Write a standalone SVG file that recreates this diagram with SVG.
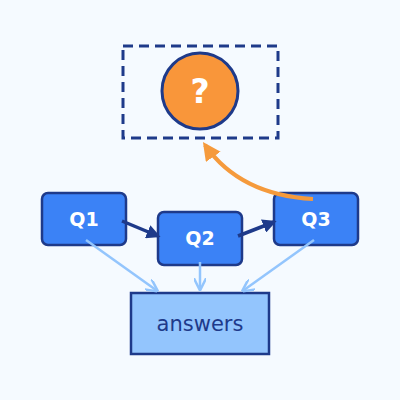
<svg xmlns="http://www.w3.org/2000/svg" width="400" height="400" viewBox="0 0 400 400">
<style>
.q{fill:#3b82f6;stroke:#1e3a8a;stroke-width:2.5}
.qt{font-family:"DejaVu Sans",sans-serif;font-weight:bold;font-size:19px;fill:#fff;text-anchor:middle}
.dark{stroke:#1e3a8a;stroke-width:3.5;fill:none}
.light{stroke:#93c5fd;stroke-width:2.5;fill:none}
</style>
<defs>
<marker id="ad" viewBox="0 0 10 10" refX="8" refY="5" markerWidth="4" markerHeight="4" orient="auto"><path d="M0,0L10,5L0,10z" fill="#1e3a8a"/></marker>
<marker id="al" viewBox="0 0 10 10" refX="8" refY="5" markerWidth="5" markerHeight="5" orient="auto"><path d="M0,0L10,5L0,10" fill="none" stroke="#93c5fd" stroke-width="2"/></marker>
<marker id="ao" viewBox="0 0 10 10" refX="8" refY="5" markerWidth="4.5" markerHeight="4.5" orient="auto"><path d="M0,0L10,5L0,10z" fill="#f59a3c"/></marker>
</defs>
<rect width="400" height="400" fill="#f5faff"/>
<g id="unknown">
<rect x="123" y="46" width="155" height="92" fill="none" stroke="#1e3a8a" stroke-width="3" stroke-dasharray="10,6"/>
<circle cx="200" cy="91" r="38" fill="#f9963a" stroke="#1e3a8a" stroke-width="3"/>
<text x="200" y="103" font-family="DejaVu Sans,sans-serif" font-weight="bold" font-size="33" fill="#fff" text-anchor="middle">?</text>
</g>
<g id="Q1"><rect class="q" x="42" y="193" width="84" height="52" rx="6"/><text class="qt" x="84" y="226">Q1</text></g>
<g id="Q2"><rect class="q" x="158" y="212" width="84" height="53" rx="6"/><text class="qt" x="200" y="245">Q2</text></g>
<g id="Q3"><rect class="q" x="274" y="193" width="84" height="52" rx="6"/><text class="qt" x="316" y="226">Q3</text></g>
<g id="answers"><rect x="131" y="293" width="138" height="61" fill="#93c5fd" stroke="#1e3a8a" stroke-width="2.5"/><text x="200" y="331" font-family="DejaVu Sans,sans-serif" font-size="21" fill="#1e3a8a" text-anchor="middle">answers</text></g>
<g id="connectors">
<path class="dark" d="M122,221L158,236" marker-end="url(#ad)"/>
<path class="dark" d="M238,236L274,222" marker-end="url(#ad)"/>
<path class="light" d="M86,240L156,290" marker-end="url(#al)"/>
<path class="light" d="M200,262L200,288" marker-end="url(#al)"/>
<path class="light" d="M314,240L244,290" marker-end="url(#al)"/>
<path d="M313,199Q240,195 205,145" stroke="#f59a3c" stroke-width="4" fill="none" marker-end="url(#ao)"/>
</g>
</svg>
